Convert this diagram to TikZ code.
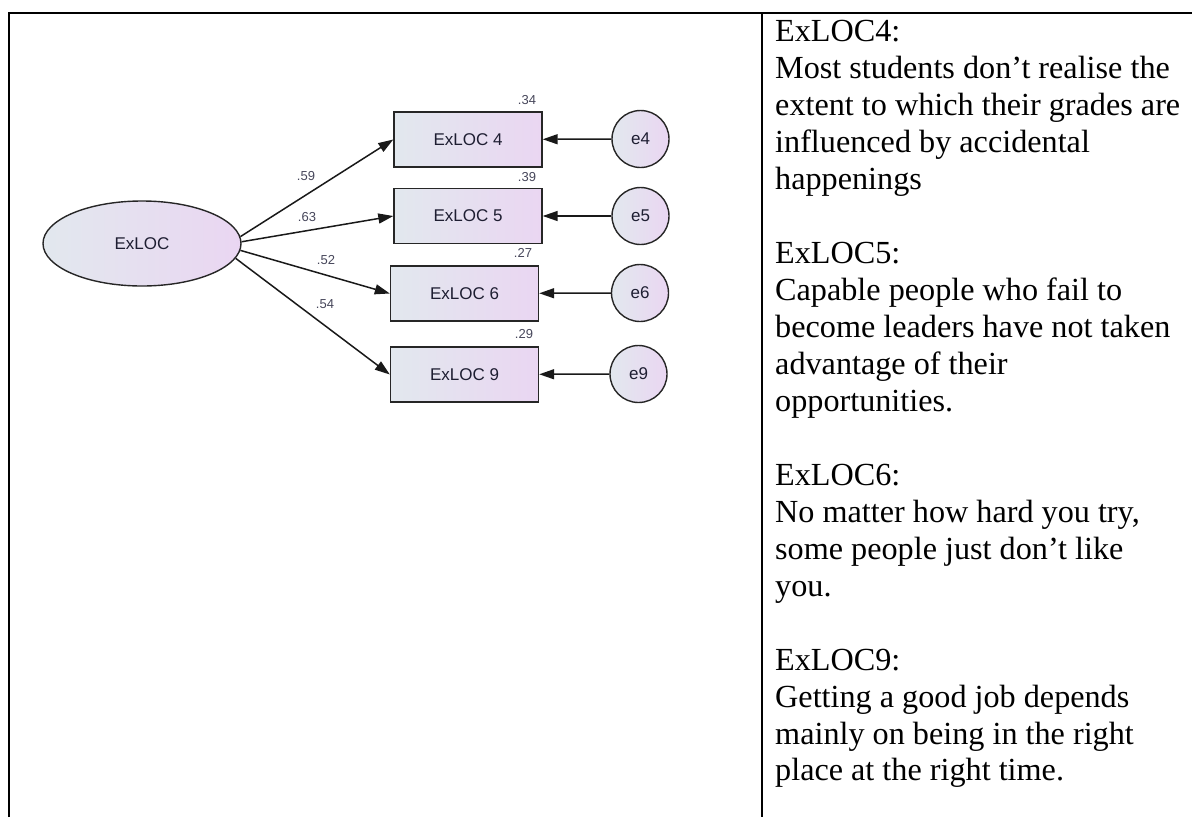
\documentclass[tikz,border=0pt]{standalone}
\usepackage{fontspec}
\setmainfont{Liberation Serif}
\newfontfamily\amosfont{Liberation Sans}
\usetikzlibrary{arrows.meta,shapes.geometric}

\definecolor{fillL}{RGB}{226,232,238}
\definecolor{fillR}{RGB}{234,214,242}
\definecolor{nodeink}{RGB}{30,30,50}
\definecolor{coefink}{RGB}{70,70,90}

\tikzset{
  shaded/.style={draw=black!85, line width=1.4pt, left color=fillL, right color=fillR,
                 text=nodeink, inner sep=0pt, font=\amosfont\fontsize{17}{20}\selectfont},
  latent/.style={shaded, ellipse, minimum width=198pt, minimum height=85pt},
  item/.style={shaded, rectangle, minimum width=148pt, minimum height=55pt},
  errterm/.style={shaded, circle, minimum size=57pt},
  coef/.style={font=\amosfont\fontsize{13}{15}\selectfont, text=coefink, inner sep=0pt},
  loading/.style={draw=black!90, line width=1.5pt, -{Triangle[length=15pt,width=10pt]}},
  frame/.style={draw=black, line width=2pt}
}

\begin{document}
\begin{tikzpicture}[x=1pt,y=-1pt]
\useasboundingbox (0,0) rectangle (1192,817);

% table rules
\draw[frame] (9,817) -- (9,13) -- (1192,13);
\draw[frame] (762,13) -- (762,817);

% latent factor and indicators
\node[latent] (lat) at (142,243.5) {ExLOC};

\node[item] (b4) at (468,139.5) {ExLOC 4};
\node[item] (b5) at (468,216) {ExLOC 5};
\node[item] (b6) at (464.5,293.5) {ExLOC 6};
\node[item] (b9) at (464.5,374.5) {ExLOC 9};

\node[errterm] (e4) at (640.5,139) {e4};
\node[errterm] (e5) at (640.5,216) {e5};
\node[errterm] (e6) at (640,293) {e6};
\node[errterm] (e9) at (638.5,374) {e9};

% factor loadings
\draw[loading] (lat.4) -- (b4.west);
\draw[loading] (lat.1) -- (b5.west);
\draw[loading] (lat.-4) -- (b6.west);
\draw[loading] (lat.-9) -- (b9.west);

% error paths
\draw[loading] (e4) -- (b4);
\draw[loading] (e5) -- (b5);
\draw[loading] (e6) -- (b6);
\draw[loading] (e9) -- (b9);

% standardized estimates
\node[coef] (p4) at (306,176) {.59};
\node[coef] (p5) at (307,217) {.63};
\node[coef] (p6) at (326,260) {.52};
\node[coef] (p9) at (325,304) {.54};

\node[coef] (r4) at (527,100) {.34};
\node[coef] (r5) at (527,177) {.39};
\node[coef] (r6) at (523,253) {.27};
\node[coef] (r9) at (524,334) {.29};

% item wording
\node[anchor=base west, inner sep=0pt] (items) at (775,41) {%
  \parbox[t]{415pt}{\raggedright\fontsize{32.2}{37}\selectfont
  ExLOC4:\\
  Most students don’t realise the\\
  extent to which their grades are\\
  influenced by accidental\\
  happenings\\[37pt]
  ExLOC5:\\
  Capable people who fail to\\
  become leaders have not taken\\
  advantage of their\\
  opportunities.\\[37pt]
  ExLOC6:\\
  No matter how hard you try,\\
  some people just don’t like\\
  you.\\[37pt]
  ExLOC9:\\
  Getting a good job depends\\
  mainly on being in the right\\
  place at the right time.}};
\end{tikzpicture}
\end{document}
